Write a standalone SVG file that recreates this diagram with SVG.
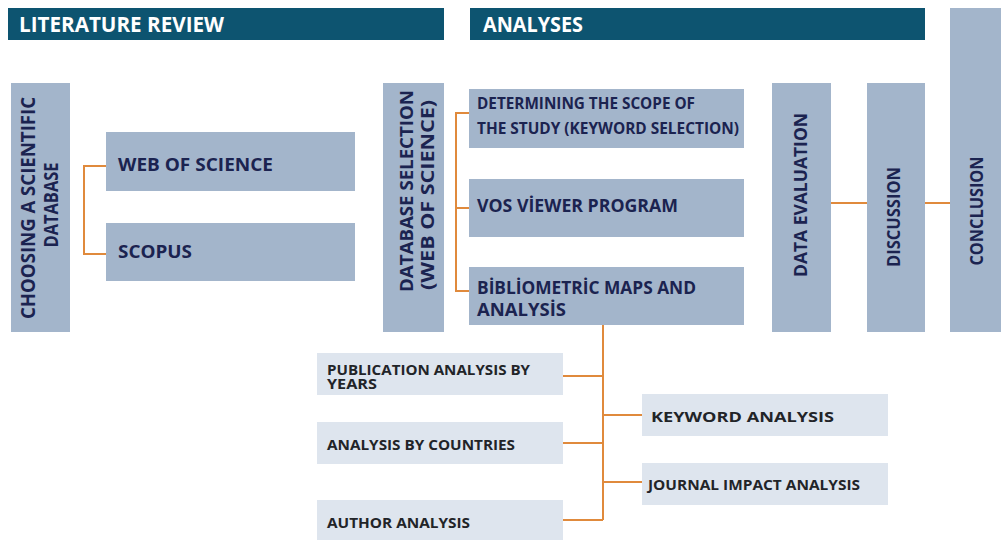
<svg xmlns="http://www.w3.org/2000/svg" width="1001" height="540" viewBox="0 0 1001 540">
  <style>
    .hdr { fill: #0d5470; }
    .hdr-t { fill: #ffffff; font-family: "Open Sans", "Liberation Sans", sans-serif; font-weight: 700; font-size: 21px; }
    .box { fill: #a3b5cb; }
    .lbox { fill: #dee5ee; }
    .t { fill: #1b2350; font-family: "Open Sans", "Liberation Sans", sans-serif; font-weight: 700; }
    .lt { fill: #222428; font-family: "Open Sans", "Liberation Sans", sans-serif; font-weight: 700; font-size: 14px; }
    .conn { fill: none; stroke: #e08a3c; stroke-width: 2; }
  </style>

  <rect width="1001" height="540" fill="#ffffff"/>

  <!-- section headers -->
  <g id="hdr-literature">
    <rect class="hdr" x="8" y="8" width="436" height="32"/>
    <text class="hdr-t" x="19" y="32" textLength="205" lengthAdjust="spacingAndGlyphs">LITERATURE REVIEW</text>
  </g>
  <g id="hdr-analyses">
    <rect class="hdr" x="470" y="8" width="455" height="32"/>
    <text class="hdr-t" x="483" y="32" textLength="100" lengthAdjust="spacingAndGlyphs">ANALYSES</text>
  </g>

  <!-- connectors -->
  <g id="connectors">
    <path class="conn" d="M106,166 H84 V254 H106"/>
    <path class="conn" d="M469,113 H456 V291 H469 M456,208 H469"/>
    <path class="conn" d="M603,325 V520 M563,376 H603 M563,443 H603 M563,520 H603 M603,415 H642 M603,482 H642"/>
    <path class="conn" d="M831,203 H867 M925,203 H950"/>
  </g>

  <!-- literature review -->
  <g id="choosing-db">
    <rect class="box" x="11" y="83" width="59" height="249"/>
    <text class="t" font-size="19" transform="translate(35,208) rotate(-90)" text-anchor="middle" textLength="222" lengthAdjust="spacingAndGlyphs">CHOOSING A SCIENTIFIC</text>
    <text class="t" font-size="19" transform="translate(58,205) rotate(-90)" text-anchor="middle" textLength="85" lengthAdjust="spacingAndGlyphs">DATABASE</text>
  </g>
  <g id="web-of-science">
    <rect class="box" x="106" y="132" width="249" height="59"/>
    <text class="t" font-size="18" x="118" y="171" textLength="155" lengthAdjust="spacingAndGlyphs">WEB OF SCIENCE</text>
  </g>
  <g id="scopus">
    <rect class="box" x="106" y="223" width="249" height="58"/>
    <text class="t" font-size="18" x="118" y="258" textLength="74" lengthAdjust="spacingAndGlyphs">SCOPUS</text>
  </g>

  <!-- analyses -->
  <g id="db-selection">
    <rect class="box" x="383" y="83" width="61" height="249"/>
    <text class="t" font-size="18" transform="translate(413,191) rotate(-90)" text-anchor="middle" textLength="202" lengthAdjust="spacingAndGlyphs">DATABASE SELECTION</text>
    <text class="t" font-size="18" transform="translate(434,195) rotate(-90)" text-anchor="middle" textLength="190" lengthAdjust="spacingAndGlyphs">(WEB OF SCIENCE)</text>
  </g>
  <g id="scope">
    <rect class="box" x="469" y="89" width="275" height="59"/>
    <text class="t" font-size="16" x="477" y="109" textLength="218" lengthAdjust="spacingAndGlyphs">DETERMINING THE SCOPE OF</text>
    <text class="t" font-size="16" x="477" y="134" textLength="262" lengthAdjust="spacingAndGlyphs">THE STUDY (KEYWORD SELECTION)</text>
  </g>
  <g id="vos-viewer">
    <rect class="box" x="469" y="179" width="275" height="58"/>
    <text class="t" font-size="18" x="477" y="212" textLength="201" lengthAdjust="spacingAndGlyphs">VOS VİEWER PROGRAM</text>
  </g>
  <g id="bibliometric">
    <rect class="box" x="469" y="267" width="275" height="58"/>
    <text class="t" font-size="18" x="477" y="294" textLength="219" lengthAdjust="spacingAndGlyphs">BİBLİOMETRİC MAPS AND</text>
    <text class="t" font-size="18" x="477" y="316" textLength="89" lengthAdjust="spacingAndGlyphs">ANALYSİS</text>
  </g>

  <g id="data-evaluation">
    <rect class="box" x="772" y="83" width="59" height="249"/>
    <text class="t" font-size="17" transform="translate(807,195) rotate(-90)" text-anchor="middle" textLength="164" lengthAdjust="spacingAndGlyphs">DATA EVALUATION</text>
  </g>
  <g id="discussion">
    <rect class="box" x="867" y="83" width="58" height="249"/>
    <text class="t" font-size="17" transform="translate(900,217) rotate(-90)" text-anchor="middle" textLength="100" lengthAdjust="spacingAndGlyphs">DISCUSSION</text>
  </g>
  <g id="conclusion">
    <rect class="box" x="950" y="8" width="51" height="324"/>
    <text class="t" font-size="17" transform="translate(983,211) rotate(-90)" text-anchor="middle" textLength="109" lengthAdjust="spacingAndGlyphs">CONCLUSION</text>
  </g>

  <!-- bibliometric analyses -->
  <g id="pub-years">
    <rect class="lbox" x="317" y="353" width="246" height="42"/>
    <text class="lt" font-size="13"><tspan x="327" y="375" textLength="203" lengthAdjust="spacingAndGlyphs">PUBLICATION ANALYSIS BY</tspan><tspan x="327" y="389" textLength="50" lengthAdjust="spacingAndGlyphs">YEARS</tspan></text>
  </g>
  <g id="countries">
    <rect class="lbox" x="317" y="422" width="246" height="42"/>
    <text class="lt" x="327" y="450" textLength="188" lengthAdjust="spacingAndGlyphs">ANALYSIS BY COUNTRIES</text>
  </g>
  <g id="author">
    <rect class="lbox" x="317" y="500" width="246" height="40"/>
    <text class="lt" x="327" y="528" textLength="143" lengthAdjust="spacingAndGlyphs">AUTHOR ANALYSIS</text>
  </g>
  <g id="keyword">
    <rect class="lbox" x="642" y="394" width="246" height="42"/>
    <text class="lt" x="651" y="422" textLength="183" lengthAdjust="spacingAndGlyphs">KEYWORD ANALYSIS</text>
  </g>
  <g id="journal-impact">
    <rect class="lbox" x="642" y="463" width="246" height="42"/>
    <text class="lt" x="648" y="490" textLength="212" lengthAdjust="spacingAndGlyphs">JOURNAL IMPACT ANALYSIS</text>
  </g>
</svg>
